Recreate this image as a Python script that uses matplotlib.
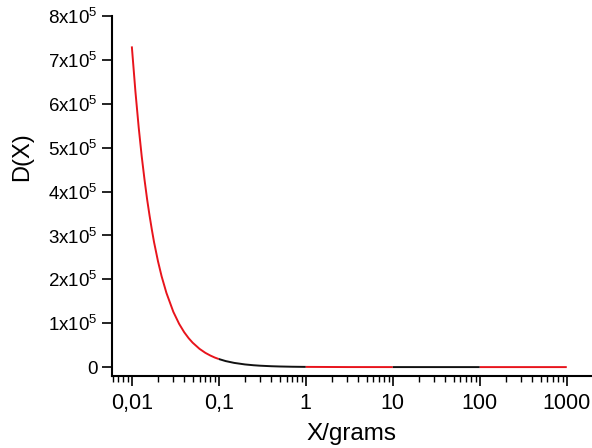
import matplotlib
matplotlib.use('Agg')
import matplotlib.pyplot as plt
from matplotlib.ticker import FixedLocator, LogLocator, NullFormatter

plt.rcParams['font.family'] = ['Liberation Sans', 'DejaVu Sans']
plt.rcParams['mathtext.fontset'] = 'custom'
plt.rcParams['mathtext.rm'] = 'Liberation Sans'
plt.rcParams['mathtext.it'] = 'Liberation Sans'

# curve segments, alternating red / black per decade
seg1_x = [0.01, 0.011, 0.012, 0.013, 0.014, 0.015, 0.016, 0.017, 0.018, 0.02, 0.022, 0.025,
          0.03, 0.035, 0.04, 0.045, 0.05, 0.06, 0.07, 0.08, 0.09, 0.1]
seg1_y = [731000, 628000, 546000, 480000, 427000, 382000, 345000, 313000, 285000, 241000, 207000, 169000,
          126000, 98500, 79500, 65900, 55700, 41600, 32500, 26300, 21700, 18400]
seg2_x = [0.1, 0.12, 0.15, 0.2, 0.25, 0.3, 0.4, 0.5, 0.7, 1.0]
seg2_y = [18400, 13700, 9600, 6050, 4240, 3160, 2000, 1400, 815, 460]
seg3_x = [1.0, 3.0, 10.0]
seg3_y = [460, 80, 18]
seg4_x = [10.0, 30.0, 100.0]
seg4_y = [18, 3, 0.7]
seg5_x = [100.0, 1000.0]
seg5_y = [0.7, 0.03]

segments = [(seg1_x, seg1_y, '#e8141c'), (seg2_x, seg2_y, '#111111'),
            (seg3_x, seg3_y, '#e8141c'), (seg4_x, seg4_y, '#111111'),
            (seg5_x, seg5_y, '#e8141c')]

x_ticks = [0.01, 0.1, 1, 10, 100, 1000]
x_labels = ['0,01', '0,1', '1', '10', '100', '1000']
y_ticks = [0, 1e5, 2e5, 3e5, 4e5, 5e5, 6e5, 7e5, 8e5]
y_labels = ['0'] + [rf'${i}$x$10^5$' for i in range(1, 9)]

fig = plt.figure(figsize=(5.92, 4.48), dpi=100)
ax = fig.add_axes([0.189, 0.161, 0.811, 0.803])

for xs, ys, c in segments:
    ax.plot(xs, ys, color=c, lw=1.4, solid_capstyle='butt')

ax.set_xscale('log')
ax.set_xlim(0.0059, 1950)
ax.set_ylim(-0.2e5, 8e5)

ax.xaxis.set_major_locator(FixedLocator(x_ticks))
ax.set_xticklabels(x_labels)
ax.xaxis.set_minor_locator(LogLocator(base=10, subs=range(2, 10), numticks=20))
ax.xaxis.set_minor_formatter(NullFormatter())
ax.set_yticks(y_ticks)
ax.set_yticklabels(y_labels)

for s in ['top', 'right']:
    ax.spines[s].set_visible(False)
for s in ['left', 'bottom']:
    ax.spines[s].set_linewidth(1.5)

ax.tick_params(axis='both', which='major', direction='out', length=7, width=1.2)
ax.tick_params(axis='y', which='major', labelsize=13.5, pad=3)
ax.tick_params(axis='x', which='major', labelsize=15.5, pad=5)
ax.tick_params(axis='x', which='minor', direction='out', length=4, width=1.0)

ax.set_xlabel('X/grams', fontsize=17.5, labelpad=7)
ax.set_ylabel('D(X)', fontsize=17)
ax.yaxis.set_label_coords(-0.165, 0.61)

fig.savefig('out.png', dpi=100)
